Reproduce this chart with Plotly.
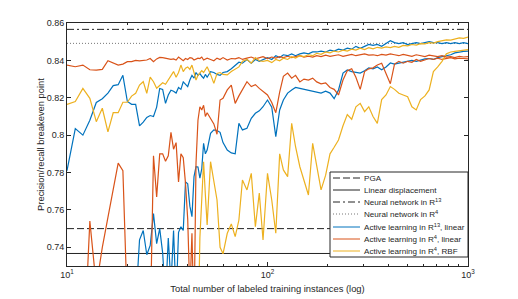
import plotly.graph_objects as go

# x values: number of labeled training instances
X = [10, 11, 12, 13, 14, 15, 16, 17, 18, 19, 20, 21, 22, 23, 24, 25, 26, 27, 28, 29,
     30, 31, 32, 33, 34, 35, 36, 37, 38, 39, 40, 41, 42, 43, 44, 45, 46, 47, 48, 49,
     50, 52, 54, 56, 58, 60, 63, 66, 69, 72, 75, 79, 83, 87, 91, 95, 100, 105, 110, 115,
     120, 126, 132, 138, 145, 152, 160, 168, 176, 185, 195, 205, 215, 226, 238, 250,
     263, 276, 290, 305, 320, 336, 353, 371, 390, 410, 430, 452, 475, 500, 525, 552,
     580, 610, 640, 672, 706, 742, 780, 820, 860, 905, 950, 1000]

# Active learning in R^13, linear (upper run)
al13_lin_a = [0.781, 0.8035, 0.800, 0.808, 0.8175, 0.8195, 0.8225, 0.8265, 0.827, 0.832,
              0.818, 0.8165, 0.8165, 0.805, 0.807, 0.8095, 0.8105, 0.810, 0.815, 0.825,
              0.8245, 0.817, 0.8215, 0.824, 0.8235, 0.8225, 0.8255, 0.8245, 0.8285, 0.827,
              0.826, 0.8295, 0.832, 0.8305, 0.8335, 0.832, 0.833, 0.8315, 0.8305, 0.8325,
              0.831, 0.834, 0.8335, 0.8325, 0.832, 0.8335,
              0.834, 0.8355, 0.8375, 0.839, 0.8385,
              0.8405, 0.8385, 0.8405, 0.8395, 0.8405,
              0.8415, 0.8405, 0.8425, 0.8415, 0.843,
              0.8425, 0.8435, 0.8425, 0.8435, 0.844,
              0.8435, 0.8445, 0.8445, 0.845, 0.8445,
              0.8455, 0.845, 0.846, 0.8455, 0.8465,
              0.846, 0.8475, 0.8465, 0.8475, 0.8485,
              0.848, 0.8485, 0.8475, 0.849, 0.8505,
              0.8495, 0.849, 0.8495, 0.8485, 0.849,
              0.8495, 0.849, 0.8495, 0.850, 0.8495,
              0.8495, 0.849, 0.8495, 0.849, 0.8495,
              0.849, 0.8495, 0.849]

# Active learning in R^4, linear (upper run)
al4_lin_a = [0.8375, 0.8366, 0.8375, 0.835, 0.8348, 0.8352, 0.8398, 0.8388, 0.8375, 0.838,
             0.8393, 0.8393, 0.840, 0.8397, 0.840, 0.8402, 0.841, 0.8393, 0.8408, 0.8416,
             0.8415, 0.8412, 0.8406, 0.8405, 0.8408, 0.8402, 0.8418, 0.8405, 0.8398, 0.841,
             0.8405, 0.8415, 0.8412, 0.8402, 0.8405, 0.8412, 0.841, 0.8418, 0.8402, 0.8408,
             0.8412, 0.8405, 0.8398, 0.8412, 0.8405, 0.8415,
             0.8402, 0.841, 0.8408, 0.8415, 0.8405,
             0.8412, 0.8418, 0.8408, 0.8415, 0.842,
             0.841, 0.8418, 0.8412, 0.842, 0.8415,
             0.8422, 0.8415, 0.842, 0.8425, 0.8418,
             0.8422, 0.8418, 0.8425, 0.842, 0.8428,
             0.8422, 0.8425, 0.843, 0.8422, 0.8428,
             0.8432, 0.8425, 0.8428, 0.8435, 0.8428,
             0.843, 0.8425, 0.8432, 0.8428, 0.8435,
             0.843, 0.8425, 0.8432, 0.8428, 0.8422,
             0.843, 0.8425, 0.842, 0.8428, 0.8422,
             0.842, 0.8425, 0.8418, 0.842, 0.8415,
             0.8422, 0.8418, 0.842]

# Active learning in R^4, RBF (upper run)
al4_rbf_a = [0.8165, 0.818, 0.825, 0.8197, 0.8072, 0.8144, 0.8018, 0.812, 0.812, 0.8176,
             0.8176, 0.8209, 0.8224, 0.8268, 0.8286, 0.8224, 0.831, 0.8286, 0.8251, 0.8265,
             0.828, 0.8272, 0.8295, 0.8313, 0.834, 0.831, 0.8335, 0.8375, 0.834, 0.8358,
             0.8365, 0.8352, 0.8375, 0.8335, 0.8295, 0.832, 0.8335, 0.8345, 0.8335, 0.8355,
             0.8366, 0.8325, 0.8277, 0.833, 0.8335, 0.8325,
             0.8322, 0.834, 0.8355, 0.8365, 0.8395,
             0.8405, 0.8385, 0.8415, 0.8398, 0.8395,
             0.840, 0.8388, 0.8405, 0.8398, 0.8412,
             0.8405, 0.842, 0.8412, 0.8425, 0.842,
             0.843, 0.8425, 0.8438, 0.8432, 0.8445,
             0.844, 0.845, 0.8445, 0.8455, 0.845,
             0.846, 0.8455, 0.8465, 0.8458, 0.8468,
             0.8462, 0.847, 0.8466, 0.8472, 0.8468,
             0.8475, 0.847, 0.848, 0.8478, 0.8485,
             0.8482, 0.849, 0.8488, 0.8495, 0.8492,
             0.850, 0.8505, 0.851, 0.8508, 0.8515,
             0.852, 0.8518, 0.8525]

# Active learning in R^4, linear (lower run)
al4_lin_b = [0.67, 0.67, 0.674, 0.754, 0.719, 0.740, 0.756, 0.771, 0.785, 0.781,
             0.707, 0.69, 0.69, 0.69, 0.69, 0.69, 0.697, 0.789, 0.767, 0.790,
             0.790, 0.786, 0.789, 0.8015, 0.7925, 0.796, 0.775, 0.790, 0.788, 0.7742,
             0.755, 0.715, 0.7475, 0.70, 0.785, 0.808, 0.8152, 0.8135, 0.816, 0.810,
             0.812, 0.8085, 0.806, 0.8005, 0.8188, 0.8197,
             0.8242, 0.8268, 0.817, 0.821, 0.8242,
             0.8286, 0.826, 0.827, 0.825, 0.8235,
             0.8215, 0.8175, 0.812, 0.823, 0.8315,
             0.8332, 0.8305, 0.832, 0.8285, 0.830,
             0.8295, 0.8305, 0.8285, 0.8275, 0.828,
             0.8255, 0.8245, 0.8215, 0.8295, 0.8345,
             0.8355, 0.831, 0.8245, 0.834, 0.8355,
             0.836, 0.8375, 0.8385, 0.833, 0.8275,
             0.838, 0.8395, 0.8385, 0.8395, 0.839,
             0.8405, 0.8395, 0.8402, 0.841, 0.8405,
             0.8412, 0.8405, 0.841, 0.8415, 0.8408,
             0.8412, 0.841, 0.8408]

# Active learning in R^13, linear (lower run)
al13_lin_b = [0.69, 0.69, 0.69, 0.69, 0.69, 0.69, 0.69, 0.69, 0.69, 0.69,
              0.69, 0.69, 0.709, 0.744, 0.749, 0.736, 0.741, 0.758, 0.742, 0.750,
              0.737, 0.712, 0.745, 0.720, 0.749, 0.712, 0.748, 0.751, 0.749, 0.775,
              0.774, 0.762, 0.7564, 0.7778, 0.7831, 0.783, 0.777, 0.782, 0.7956, 0.790,
              0.792, 0.801, 0.8028, 0.8025, 0.8015, 0.796,
              0.792, 0.7905, 0.790, 0.8063, 0.8028,
              0.8037, 0.809, 0.8117, 0.813, 0.8152,
              0.8188, 0.815, 0.7992, 0.8135, 0.8188,
              0.8225, 0.8242, 0.8255, 0.825, 0.8245,
              0.8242, 0.8235, 0.823, 0.8225, 0.8235,
              0.8225, 0.8195, 0.8242, 0.8332, 0.8349,
              0.834, 0.8335, 0.8332, 0.8345, 0.836,
              0.8355, 0.8365, 0.835, 0.8365, 0.8386,
              0.838, 0.8385, 0.839, 0.8392, 0.840,
              0.8395, 0.8402, 0.8408, 0.841, 0.8405,
              0.8415, 0.842, 0.8428, 0.843, 0.844,
              0.8445, 0.8448, 0.845]

# Active learning in R^4, RBF (lower run)
al4_rbf_b = [0.69, 0.69, 0.69, 0.69, 0.69, 0.69, 0.69, 0.69, 0.69, 0.69,
             0.69, 0.69, 0.69, 0.69, 0.69, 0.69, 0.69, 0.69, 0.69, 0.69,
             0.69, 0.69, 0.69, 0.69, 0.69, 0.69, 0.69, 0.69, 0.69, 0.69,
             0.69, 0.69, 0.69, 0.69, 0.69, 0.69, 0.745, 0.770, 0.7858, 0.768,
             0.752, 0.7858, 0.776, 0.7653, 0.740, 0.7365,
             0.7475, 0.7525, 0.7457, 0.7546, 0.776,
             0.7707, 0.7796, 0.751, 0.769, 0.7439,
             0.7796, 0.7653, 0.7475, 0.790, 0.7814,
             0.7778, 0.8063, 0.7938, 0.7831, 0.776,
             0.768, 0.7956, 0.7831, 0.7707, 0.7786,
             0.790, 0.7935, 0.7974, 0.805, 0.811,
             0.8085, 0.8152, 0.817, 0.8126, 0.8152,
             0.810, 0.8063, 0.819, 0.8215, 0.826,
             0.8245, 0.8224, 0.8215, 0.8206, 0.8152,
             0.8135, 0.819, 0.821, 0.8242, 0.834,
             0.8365, 0.8395, 0.8435, 0.8445, 0.8448,
             0.8452, 0.8455, 0.8458]

# Constant baselines
X_RANGE = [10, 1000]
pga = 0.750
linear_disp = 0.7367
nn_r13 = 0.8566
nn_r4 = 0.8491

y_tickvals = [0.74, 0.76, 0.78, 0.80, 0.82, 0.84, 0.86]
y_ticktext = ["0.74", "0.76", "0.78", "0.8", "0.82", "0.84", "0.86"]
x_tickvals = [10, 100, 1000]
x_ticktext = ["10<sup>1</sup>", "10<sup>2</sup>", "10<sup>3</sup>"]
x_minor = [20, 30, 40, 50, 60, 70, 80, 90, 200, 300, 400, 500, 600, 700, 800, 900]

legend_names = ["PGA", "Linear displacement", "Neural network in R<sup>13</sup>",
                "Neural network in R<sup>4</sup>", "Active learning in R<sup>13</sup>, linear",
                "Active learning in R<sup>4</sup>, linear", "Active learning in R<sup>4</sup>, RBF"]

BLUE = "#0072BD"
RED = "#D95319"
YELLOW = "#EDB120"
AX = "#262626"
FONT = "Liberation Sans, Arial, Helvetica, sans-serif"

styles = [("#222222", "7px,3px"), ("#222222", "solid"), ("#222222", "7px,3px,2px,3px"),
          ("#777777", "1px,2px"), (BLUE, "solid"), (RED, "solid"), (YELLOW, "solid")]

fig = go.Figure()

for val, (col, dash), name in zip([pga, linear_disp, nn_r13, nn_r4], styles[:4], legend_names[:4]):
    fig.add_trace(go.Scatter(x=X_RANGE, y=[val, val], mode="lines", name=name,
                             showlegend=False, line=dict(color=col, width=1.0, dash=dash)))

for y, col, name in [(al13_lin_b, BLUE, legend_names[4]), (al4_lin_b, RED, legend_names[5]),
                     (al4_rbf_b, YELLOW, legend_names[6]), (al13_lin_a, BLUE, legend_names[4]),
                     (al4_lin_a, RED, legend_names[5]), (al4_rbf_a, YELLOW, legend_names[6])]:
    fig.add_trace(go.Scatter(x=X, y=y, mode="lines", name=name, showlegend=False,
                             line=dict(color=col, width=1.2)))

# Legend drawn as a boxed key (MATLAB style, compact rows)
L, T, B_ = 67, 23, 266
W, H = 401, 243
def px_x(p):
    return (p - L) / W
def px_y(p):
    return (B_ - p) / H

shapes = [dict(type="rect", xref="paper", yref="paper", x0=px_x(330), x1=px_x(468),
               y0=px_y(257), y1=px_y(172), fillcolor="white",
               line=dict(color=AX, width=1), layer="above")]
annotations = []
row_y = [178, 190, 202, 214, 227, 239, 251]
for (col, dash), name, ry in zip(styles, legend_names, row_y):
    shapes.append(dict(type="line", xref="paper", yref="paper", x0=px_x(333), x1=px_x(360),
                       y0=px_y(ry), y1=px_y(ry), line=dict(color=col, width=1, dash=dash),
                       layer="above"))
    annotations.append(dict(xref="paper", yref="paper", x=px_x(362), y=px_y(ry),
                            xanchor="left", yanchor="middle", text=name, showarrow=False,
                            font=dict(size=8.1, family=FONT, color=AX)))

fig.update_layout(
    width=518, height=299,
    margin=dict(l=67, r=50, t=23, b=33, autoexpand=False),
    paper_bgcolor="white", plot_bgcolor="white",
    font=dict(family=FONT, size=9, color=AX),
    showlegend=False,
    shapes=shapes, annotations=annotations,
    xaxis=dict(type="log", range=[1, 3], tickvals=x_tickvals, ticktext=x_ticktext,
               ticks="inside", ticklen=4, tickcolor=AX, showline=True, linecolor=AX,
               linewidth=1, mirror="ticks", showgrid=False, zeroline=False, automargin=False,
               minor=dict(tickvals=x_minor, ticks="inside", ticklen=2, tickcolor=AX, showgrid=False),
               title=dict(text="Total number of labeled training instances (log)",
                          font=dict(size=9.4, family=FONT, color=AX), standoff=6),
               tickfont=dict(size=9, family=FONT, color=AX)),
    yaxis=dict(range=[0.73, 0.86], tickvals=y_tickvals, ticktext=y_ticktext,
               ticks="inside", ticklen=4, tickcolor=AX, showline=True, linecolor=AX,
               linewidth=1, mirror="ticks", showgrid=False, zeroline=False, automargin=False,
               title=dict(text="Precision/recall breakeven point",
                          font=dict(size=9.4, family=FONT, color=AX), standoff=0),
               tickfont=dict(size=9, family=FONT, color=AX)),
)

fig.write_html("out.html", config={"displayModeBar": False},
               post_script="document.body.style.margin='0px';document.body.style.overflow='hidden';")
